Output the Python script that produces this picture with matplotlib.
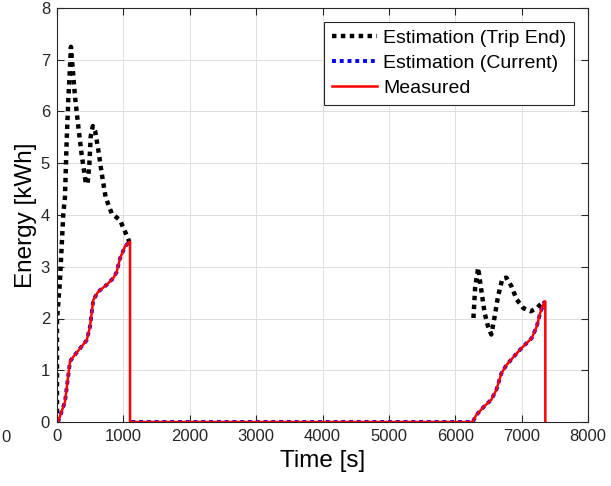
import numpy as np
import matplotlib
matplotlib.use('Agg')
import matplotlib.pyplot as plt

plt.rcParams['font.family'] = ['Liberation Sans', 'DejaVu Sans']

# Estimation (Trip End) - two trips
trip1_t = [0, 0, 45, 95, 120, 146, 170, 196, 210, 271, 321, 372, 430, 460, 487, 507, 540,
           575, 622, 673, 733, 824, 949, 1059, 1090]
trip1_e = [0, 1.97, 2.74, 4.03, 4.35, 5.45, 6.22, 6.87, 7.25, 6.29, 5.71, 5.16, 4.65, 4.60,
           4.97, 5.51, 5.72, 5.62, 5.26, 4.81, 4.34, 4.03, 3.90, 3.58, 3.48]
trip2_t = [6274, 6300, 6345, 6391, 6442, 6493, 6543, 6594, 6645, 6710, 6771, 6848, 6924,
           7026, 7137, 7229, 7305, 7346]
trip2_e = [2.01, 2.60, 2.98, 2.56, 2.11, 1.85, 1.69, 2.04, 2.43, 2.77, 2.79, 2.62, 2.37,
           2.20, 2.14, 2.20, 2.30, 2.33]

# Measured / current estimation
meas1_t = [15, 120, 196, 246, 346, 447, 497, 547, 622, 748, 848, 899, 949, 1024, 1090]
meas1_e = [0, 0.39, 1.17, 1.26, 1.42, 1.58, 1.84, 2.36, 2.52, 2.65, 2.78, 2.90, 3.16, 3.39, 3.48]
idle_t = [1120, 6264]
idle_e = [0, 0]
meas2_t = [6264, 6314, 6442, 6543, 6619, 6695, 6771, 6873, 7000, 7152, 7229, 7280, 7346]
meas2_e = [0, 0.13, 0.31, 0.43, 0.62, 0.94, 1.10, 1.25, 1.43, 1.62, 1.85, 2.11, 2.33]
drop1_t = 1100
drop2_t = 7357

trip_t = trip1_t + [np.nan] + trip2_t
trip_e = trip1_e + [np.nan] + trip2_e
cur_t = meas1_t + [np.nan] + idle_t + meas2_t[1:]
cur_e = meas1_e + [np.nan] + idle_e + meas2_e[1:]
red_t = meas1_t + [drop1_t, drop1_t] + meas2_t + [drop2_t, drop2_t]
red_e = meas1_e + [meas1_e[-1], 0] + meas2_e + [meas2_e[-1], 0]

fig = plt.figure(figsize=(6.11, 4.86), dpi=100)
ax = fig.add_axes([57 / 611, 64 / 486, 531 / 611, 414 / 486])

ax.plot(trip_t, trip_e, color='black', linewidth=3.2, dashes=(1, 1),
        label='Estimation (Trip End)')
ax.plot(cur_t, cur_e, color='blue', linewidth=2.8, dashes=(1, 1),
        label='Estimation (Current)')
ax.plot(red_t, red_e, color='red', linewidth=1.8, label='Measured')

ax.set_xlim(0, 8000)
ax.set_ylim(0, 8)
ax.set_xticks(np.arange(0, 8001, 1000))
ax.set_yticks(np.arange(0, 9, 1))
ax.grid(True, color='#dedede', linewidth=0.7)
ax.set_axisbelow(True)
ax.tick_params(direction='in', top=True, right=True, length=5, labelsize=12,
               colors='#262626', width=0.8, pad=5)
for s in ax.spines.values():
    s.set_color('#262626')
    s.set_linewidth(0.8)

ax.set_xlabel('Time [s]', fontsize=17.5, color='black', labelpad=4)
ax.set_ylabel('Energy [kWh]', fontsize=17.5, color='black', labelpad=3)

leg = ax.legend(loc='upper right', fontsize=14, fancybox=False, framealpha=1,
                edgecolor='#262626', borderaxespad=0.7, handlelength=2.3,
                handletextpad=0.35, labelspacing=0.38, borderpad=0.4)
leg.get_frame().set_linewidth(0.8)

# stray label at the left edge
fig.text(1 / 611, 1 - 437 / 486, '0', fontsize=12, color='#262626', ha='left', va='center')

fig.savefig('out.png', dpi=100)
